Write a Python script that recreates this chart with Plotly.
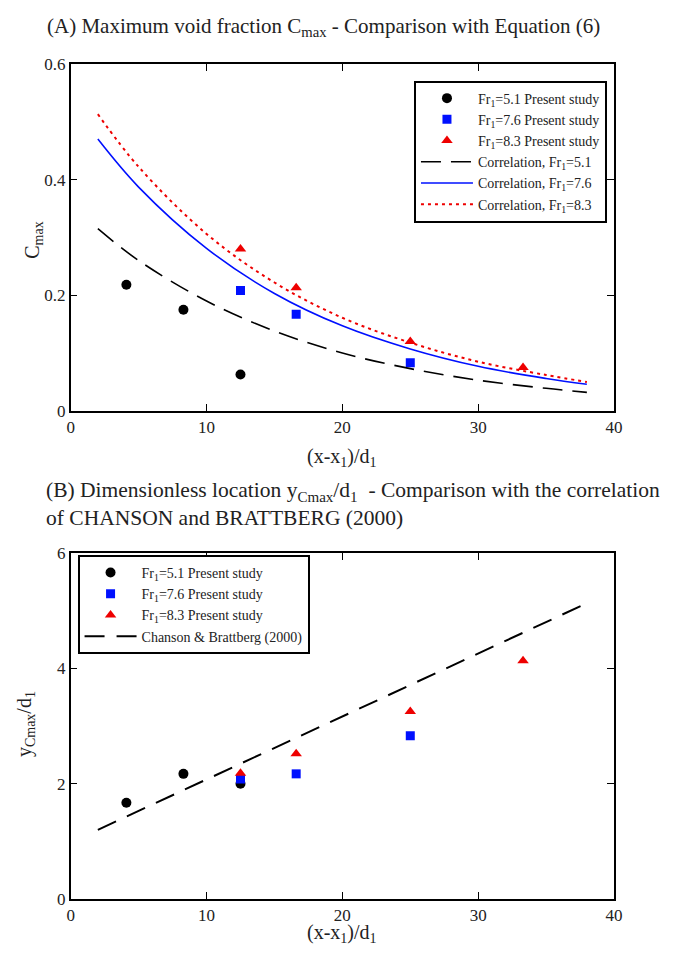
import plotly.graph_objects as go

# ---- Panel A: maximum void fraction ----
x_fr51 = [4.1, 8.3, 12.5]
c_fr51 = [0.218, 0.175, 0.063]
x_fr76 = [12.5, 16.6, 25.0]
c_fr76 = [0.208, 0.167, 0.083]
x_fr83 = [12.5, 16.6, 25.0, 33.3]
c_fr83 = [0.280, 0.213, 0.120, 0.075]

# correlation curves (Equation 6), sampled along x
x_corr = [2, 5, 10, 15, 20, 25, 30, 35, 38]
corr_51 = [0.315, 0.260, 0.190, 0.138, 0.100, 0.073, 0.053, 0.039, 0.032]
corr_76 = [0.470, 0.387, 0.281, 0.203, 0.147, 0.107, 0.077, 0.056, 0.046]
corr_83 = [0.513, 0.422, 0.306, 0.222, 0.161, 0.118, 0.085, 0.062, 0.050]

# ---- Panel B: dimensionless location of Cmax ----
xb_fr51 = [4.1, 8.3, 12.5]
yb_fr51 = [1.67, 2.17, 2.00]
xb_fr76 = [12.5, 16.6, 25.0]
yb_fr76 = [2.08, 2.17, 2.83]
xb_fr83 = [12.5, 16.6, 25.0, 33.3]
yb_fr83 = [2.18, 2.52, 3.25, 4.13]
x_cb = [2, 38]
y_cb = [1.20, 5.13]

x_ticks = [0, 10, 20, 30, 40]
ya_ticks = [0, 0.2, 0.4, 0.6]
ya_labels = ["0", "0.2", "0.4", "0.6"]
yb_ticks = [0, 2, 4, 6]

W, H = 676, 958
SERIF = "Liberation Serif, Times New Roman, serif"


def px(x):
    return x / W


def py(y):
    return 1 - y / H


fig = go.Figure()

mk_c = dict(symbol="circle", size=10, color="black")
mk_s = dict(symbol="square", size=9, color="#0010ff")
mk_t = dict(symbol="triangle-up", size=10, color="#ee0000")

# Panel A traces
fig.add_trace(go.Scatter(x=x_fr51, y=c_fr51, mode="markers", marker=mk_c,
                         name="Fr<sub>1</sub>=5.1 Present study", legend="legend"))
fig.add_trace(go.Scatter(x=x_fr76, y=c_fr76, mode="markers", marker=mk_s,
                         name="Fr<sub>1</sub>=7.6 Present study", legend="legend"))
fig.add_trace(go.Scatter(x=x_fr83, y=c_fr83, mode="markers", marker=mk_t,
                         name="Fr<sub>1</sub>=8.3 Present study", legend="legend"))
fig.add_trace(go.Scatter(x=x_corr, y=corr_51, mode="lines", line_shape="spline",
                         line=dict(color="black", width=1.6, dash="20px,10px"),
                         name="Correlation, Fr<sub>1</sub>=5.1", legend="legend"))
fig.add_trace(go.Scatter(x=x_corr, y=corr_76, mode="lines", line_shape="spline",
                         line=dict(color="#0010ff", width=1.6),
                         name="Correlation, Fr<sub>1</sub>=7.6", legend="legend"))
fig.add_trace(go.Scatter(x=x_corr, y=corr_83, mode="lines", line_shape="spline",
                         line=dict(color="#ee0000", width=2, dash="3px,4px"),
                         name="Correlation, Fr<sub>1</sub>=8.3", legend="legend"))

# Panel B traces
fig.add_trace(go.Scatter(x=xb_fr51, y=yb_fr51, mode="markers", marker=mk_c,
                         xaxis="x2", yaxis="y2",
                         name="Fr<sub>1</sub>=5.1 Present study", legend="legend2"))
fig.add_trace(go.Scatter(x=xb_fr76, y=yb_fr76, mode="markers", marker=mk_s,
                         xaxis="x2", yaxis="y2",
                         name="Fr<sub>1</sub>=7.6 Present study", legend="legend2"))
fig.add_trace(go.Scatter(x=xb_fr83, y=yb_fr83, mode="markers", marker=mk_t,
                         xaxis="x2", yaxis="y2",
                         name="Fr<sub>1</sub>=8.3 Present study", legend="legend2"))
fig.add_trace(go.Scatter(x=x_cb, y=y_cb, mode="lines",
                         line=dict(color="black", width=2, dash="20px,12px"),
                         xaxis="x2", yaxis="y2",
                         name="Chanson & Brattberg (2000)", legend="legend2"))

axis_common = dict(showline=True, linecolor="black", linewidth=1.5, mirror="ticks",
                   ticks="inside", ticklen=7, tickwidth=1.2, tickcolor="black",
                   showgrid=False, zeroline=False,
                   tickfont=dict(family=SERIF, size=17, color="#222"))

legend_common = dict(xanchor="left", yanchor="top", bgcolor="white",
                     bordercolor="black", borderwidth=2,
                     font=dict(family=SERIF, size=14, color="#222"),
                     tracegroupgap=0, itemwidth=52)

x_dom = [px(68), px(622)]
fig.update_layout(
    width=W, height=H,
    margin=dict(l=0, r=0, t=0, b=0),
    paper_bgcolor="white", plot_bgcolor="white",
    xaxis=dict(domain=x_dom, range=[0, 40], tickvals=x_ticks, anchor="y", **axis_common),
    yaxis=dict(domain=[py(410), py(56)], range=[0, 0.6], tickvals=ya_ticks,
               ticktext=ya_labels, anchor="x", **axis_common),
    xaxis2=dict(domain=x_dom, range=[0, 40], tickvals=x_ticks, anchor="y2", **axis_common),
    yaxis2=dict(domain=[py(908), py(555)], range=[0, 6], tickvals=yb_ticks,
                anchor="x2", **axis_common),
    legend=dict(x=px(418), y=py(73), **legend_common),
    legend2=dict(x=px(75), y=py(557), **legend_common),
    showlegend=True,
)

title_font = dict(family=SERIF, size=21, color="#222")
title_font_b = dict(family=SERIF, size=21.5, color="#222")
label_font = dict(family=SERIF, size=20, color="#222")


def note(text, x, y, font, xanchor="center", angle=0):
    fig.add_annotation(text=text, x=px(x), y=py(y), xref="paper", yref="paper",
                       xanchor=xanchor, yanchor="middle", textangle=angle,
                       showarrow=False, font=font, align="left")


note("(A) Maximum void fraction C<sub>max</sub> - Comparison with Equation (6)",
     42, 18, title_font, xanchor="left")
note("(B) Dimensionless location y<sub>Cmax</sub>/d<sub>1</sub>  - Comparison with the correlation",
     41, 492, title_font_b, xanchor="left")
note("of CHANSON and BRATTBERG (2000)", 41, 519, title_font_b, xanchor="left")
note("C<sub>max</sub>", 30, 236, label_font, angle=-90)
note("y<sub>Cmax</sub>/d<sub>1</sub>", 22, 730, label_font, angle=-90)
note("(x-x<sub>1</sub>)/d<sub>1</sub>", 345, 458, label_font)
note("(x-x<sub>1</sub>)/d<sub>1</sub>", 345, 943, label_font)

fig.write_html("out.html")
